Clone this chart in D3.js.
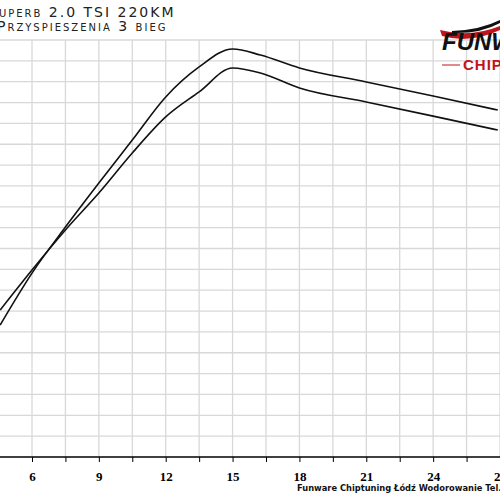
<!DOCTYPE html>
<html><head><meta charset="utf-8">
<script src="https://cdn.jsdelivr.net/npm/d3@7"></script>
<style>body{margin:0;background:#fff}svg{display:block}</style>
</head><body><svg id="c" width="500" height="500"></svg>
<script>
const xVals = [4.57,6,7.5,9,10.5,12,13.5,15,16.25,18,21,24,26.9];
const seriesA = [6.33,8.82,11.03,13.14,15.2,17.27,18.71,19.57,19.28,18.66,17.99,17.31,16.64];
const seriesB = [7.05,8.97,10.89,12.66,14.58,16.31,17.51,18.66,18.42,17.70,17.03,16.35,15.68];
const tickLabels = [6,9,12,15,18,21,24,27];
const titleLines = ["Superb 2.0 TSI 220KM","Przyspieszenia 3 bieg"];

const svg = d3.select("#c");
const x = d3.scaleLinear().domain([4.564,27.0]).range([0,500]);
const y = d3.scaleLinear().domain([0,20]).range([457,40]);

const gridX = d3.range(3,28.6,1.5);
svg.append("g").selectAll("line").data(gridX).join("line")
  .attr("x1",d=>x(d)).attr("x2",d=>x(d)).attr("y1",y(20)).attr("y2",y(0))
  .attr("stroke","#d8d8d8").attr("stroke-width",1.3);
svg.append("g").selectAll("line").data(d3.range(1,21)).join("line")
  .attr("x1",0).attr("x2",500).attr("y1",d=>y(d)).attr("y2",d=>y(d))
  .attr("stroke","#d8d8d8").attr("stroke-width",1.3);

const ax = svg.append("g").attr("transform","translate(0,457)")
  .call(d3.axisBottom(x).tickValues(gridX).tickSize(5).tickFormat(d=>tickLabels.includes(d)?d:""));
ax.select(".domain").attr("stroke","#000").attr("stroke-width",1.5).attr("d","M-5,0H505");
ax.selectAll(".tick line").attr("stroke","#000");
ax.selectAll("text").attr("font-family","Liberation Serif").attr("font-weight","bold")
  .attr("font-size",13).attr("dy","1.2em").attr("fill","#000");

const line = d3.line().x((d,i)=>x(xVals[i])).y(d=>y(d)).curve(d3.curveMonotoneX);
[seriesA,seriesB].forEach(s=>svg.append("path").datum(s).attr("d",line)
  .attr("fill","none").attr("stroke","#111").attr("stroke-width",1.6));

svg.selectAll(".title").data(titleLines).join("text")
  .attr("x",(d,i)=>i?-3:-12).attr("y",(d,i)=>17+i*14)
  .attr("font-family","DejaVu Sans").attr("font-size",14).attr("font-variant","small-caps")
  .attr("letter-spacing",2).attr("fill","#222").text(d=>d);

// logo
svg.append("path").attr("d","M440,30 Q470,38 500,26 L500,30 Q470,44 442,36 Z").attr("fill","#c0141c");
svg.append("path").attr("d","M452,31 Q480,30 500,20 L500,23 Q480,34 452,33 Z").attr("fill","#111");
svg.append("text").attr("x",442).attr("y",50).attr("font-family","Liberation Sans").attr("font-weight","bold")
  .attr("font-style","italic").attr("font-size",24).attr("fill","#111").text("FUNWARE");
svg.append("line").attr("x1",442).attr("x2",460).attr("y1",65).attr("y2",65).attr("stroke","#c0141c").attr("stroke-width",1);
svg.append("text").attr("x",463).attr("y",70).attr("font-family","Liberation Sans").attr("font-weight","bold")
  .attr("font-size",15).attr("letter-spacing",1).attr("fill","#c0141c").text("CHIPTUNING");

svg.append("text").attr("x",297).attr("y",491).attr("font-family","DejaVu Sans").attr("font-weight","bold")
  .attr("font-size",8.3).attr("fill","#111").text("Funware Chiptuning Łódź Wodorowanie Tel. 797 000 000");
</script></body></html>
